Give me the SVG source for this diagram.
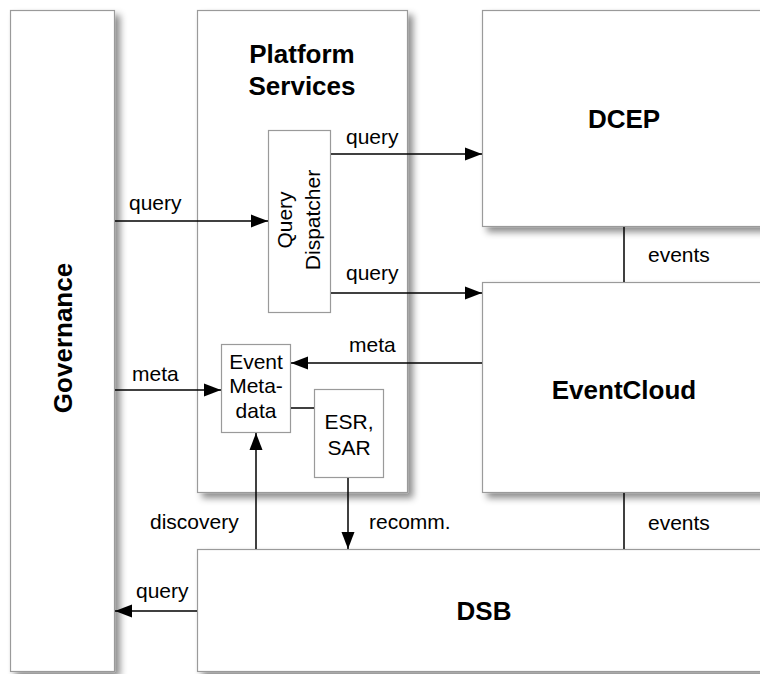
<svg xmlns="http://www.w3.org/2000/svg" width="760" height="674" viewBox="0 0 760 674">
<style>
.box{fill:#fff;stroke:#9a9a9a;stroke-width:1.2}
.sh{filter:url(#shadow)}
.title{font-family:"Liberation Sans",Arial,sans-serif;font-weight:bold;font-size:26px;fill:#000;text-anchor:middle}
.lbl{font-family:"Liberation Sans",Arial,sans-serif;font-size:21px;fill:#000}
.c{stroke:#000;stroke-width:1.5;fill:none}
.arr{marker-end:url(#ah)}
</style>
<defs>
<filter id="shadow" x="-10%" y="-10%" width="130%" height="130%">
<feDropShadow dx="5" dy="5" stdDeviation="3.5" flood-color="#000" flood-opacity="0.45"/>
</filter>
<marker id="ah" markerUnits="userSpaceOnUse" markerWidth="18" markerHeight="14" refX="17" refY="7" orient="auto">
<path d="M0,0.5 L17,7 L0,13.5 Z" fill="#000"/>
</marker>
</defs>
<g id="governance">
<rect class="box sh" x="10.5" y="10.5" width="104" height="661"/>
<text class="title" transform="translate(72,338) rotate(-90)">Governance</text>
</g>
<g id="platform-services">
<rect class="box sh" x="197.5" y="10.5" width="210" height="482"/>
<text class="title" x="302" y="63">Platform</text>
<text class="title" x="302" y="95">Services</text>
</g>
<g id="dcep">
<rect class="box sh" x="482.5" y="10.5" width="300" height="216"/>
<text class="title" x="624" y="128">DCEP</text>
</g>
<g id="eventcloud">
<rect class="box sh" x="482.5" y="282.5" width="300" height="210"/>
<text class="title" x="624" y="399">EventCloud</text>
</g>
<g id="dsb">
<rect class="box sh" x="197.5" y="549.5" width="585" height="122"/>
<text class="title" x="484" y="620">DSB</text>
</g>
<g id="query-dispatcher">
<rect class="box" x="268.5" y="130.5" width="62" height="182"/>
<text class="lbl" text-anchor="middle" transform="translate(292,220) rotate(-90)">Query</text>
<text class="lbl" text-anchor="middle" transform="translate(320,220) rotate(-90)">Dispatcher</text>
</g>
<g id="event-metadata">
<rect class="box" x="221.5" y="344.5" width="69" height="88"/>
<text class="lbl" text-anchor="middle" x="256" y="369">Event</text>
<text class="lbl" text-anchor="middle" x="256" y="393">Meta-</text>
<text class="lbl" text-anchor="middle" x="256" y="418">data</text>
</g>
<g id="esr-sar">
<rect class="box" x="314.5" y="389.5" width="69" height="88"/>
<text class="lbl" text-anchor="middle" x="349" y="429">ESR,</text>
<text class="lbl" text-anchor="middle" x="349" y="455">SAR</text>
</g>
<g id="connectors">
<line class="c arr" x1="331" y1="154" x2="482" y2="154"/>
<text class="lbl" x="346" y="144">query</text>
<line class="c arr" x1="331" y1="293" x2="482" y2="293"/>
<text class="lbl" x="346" y="280">query</text>
<line class="c arr" x1="115" y1="221" x2="268" y2="221"/>
<text class="lbl" x="129" y="210">query</text>
<line class="c arr" x1="482" y1="363" x2="291" y2="363"/>
<text class="lbl" x="349" y="352">meta</text>
<line class="c arr" x1="115" y1="390" x2="221" y2="390"/>
<text class="lbl" x="132" y="381">meta</text>
<line class="c" x1="291" y1="408" x2="314" y2="408"/>
<line class="c arr" x1="256" y1="549" x2="256" y2="433"/>
<text class="lbl" x="150" y="529">discovery</text>
<line class="c arr" x1="348" y1="478" x2="348" y2="549"/>
<text class="lbl" x="369" y="529">recomm.</text>
<line class="c" x1="624" y1="227" x2="624" y2="282"/>
<text class="lbl" x="648" y="262">events</text>
<line class="c" x1="624" y1="493" x2="624" y2="549"/>
<text class="lbl" x="648" y="530">events</text>
<line class="c arr" x1="197" y1="611" x2="115" y2="611"/>
<text class="lbl" x="136" y="598">query</text>
</g>
</svg>
